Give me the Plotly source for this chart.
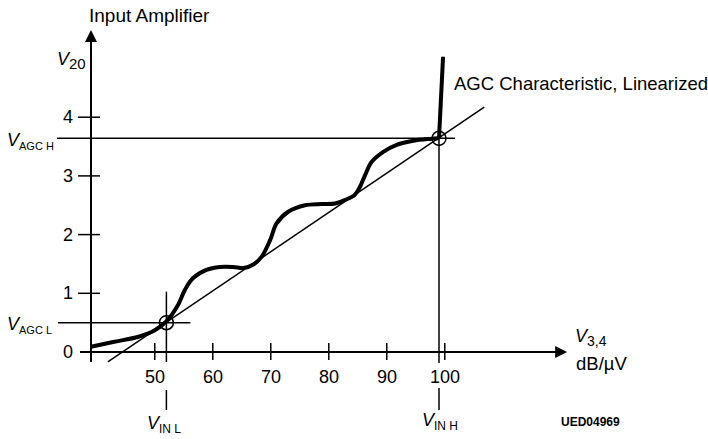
import plotly.graph_objects as go

# ---------------- data ----------------
X_TICKS = [50, 60, 70, 80, 90, 100]
X_TICK_LABELS = ["50", "60", "70", "80", "90", "100"]
Y_TICKS = [1, 2, 3, 4]
Y_TICK_LABELS = ["1", "2", "3", "4"]
Y_ZERO_LABEL = "0"

X_ORIGIN = 39          # where the V20 axis crosses the input axis (dB/uV)
X_AXIS_END = 119.2     # end of input axis line (arrow base)
Y_AXIS_END = 5.28      # end of V20 axis line (arrow base)

# AGC characteristic (thick curve)
CURVE_X = [39, 42.8, 47.2, 50, 52, 54.0, 55.2, 56.6, 58.9, 61.2, 63.5, 65.3, 67.0,
           68.4, 69.9, 71.0, 73.0, 75.9, 78.8, 81.1, 82.8, 84.5, 85.4, 86.2, 87.4,
           89.4, 91.7, 94.6, 97.4, 99]
CURVE_Y = [0.09, 0.17, 0.26, 0.37, 0.52, 0.80, 1.06, 1.26, 1.40, 1.45, 1.45, 1.43, 1.49,
           1.62, 1.91, 2.19, 2.39, 2.50, 2.52, 2.53, 2.59, 2.68, 2.82, 3.00, 3.24,
           3.41, 3.53, 3.60, 3.63, 3.64]
RISE_X = [99, 99.7]
RISE_Y = [3.64, 5.03]

# linearized characteristic
LIN_X = [41.9, 106.8]
LIN_Y = [-0.17, 4.17]

# limit points
VIN_L, VAGC_L = 52, 0.5
VIN_H, VAGC_H = 99, 3.64

# ---------------- geometry / scales ----------------
W, H = 708, 439
OX_PX, OY_PX = 91, 352      # pixel of origin
PX_PER_X, PX_PER_Y = 5.8, 58.7
x_range = [X_ORIGIN - OX_PX / PX_PER_X, X_ORIGIN + (W - OX_PX) / PX_PER_X]
y_range = [-(H - OY_PX) / PX_PER_Y, OY_PX / PX_PER_Y]

def dx(px):
    return px / PX_PER_X

def dy(px):
    return px / PX_PER_Y

FONT = "Liberation Sans, Arial, sans-serif"
BLACK = "#000000"

fig = go.Figure()

# thin linearized line
fig.add_trace(go.Scatter(x=LIN_X, y=LIN_Y, mode="lines",
                         line=dict(color=BLACK, width=1.5), hoverinfo="skip"))

shapes = []
def seg(x0, y0, x1, y1, w=1.5):
    shapes.append(dict(type="line", xref="x", yref="y", x0=x0, y0=y0, x1=x1, y1=y1,
                       line=dict(color=BLACK, width=w), layer="below"))

# axes
seg(X_ORIGIN - dx(11), 0, X_AXIS_END, 0, 2)
seg(X_ORIGIN, -dy(10), X_ORIGIN, Y_AXIS_END, 2)
# ticks
for t in X_TICKS:
    seg(t, -dy(8), t, dy(9), 1.5)
for t in Y_TICKS:
    seg(X_ORIGIN - dx(13), t, X_ORIGIN + dx(9), t, 1.5)
# reference lines
seg(X_ORIGIN - dx(34), VAGC_H, VIN_H + dx(16), VAGC_H, 1.5)
seg(X_ORIGIN - dx(33), VAGC_L, VIN_L + dx(24), VAGC_L, 1.5)
seg(VIN_L, -dy(10), VIN_L, VAGC_L + dy(31), 1.5)
seg(VIN_H, -dy(11), VIN_H, VAGC_H, 1.5)
# small markers between tick labels and V_IN labels
seg(VIN_L, -dy(38), VIN_L, -dy(58), 1.5)
seg(VIN_H, -dy(36), VIN_H, -dy(58), 1.5)

# thick characteristic
fig.add_trace(go.Scatter(x=CURVE_X, y=CURVE_Y, mode="lines",
                         line=dict(color=BLACK, width=4, shape="spline", smoothing=1.0),
                         hoverinfo="skip"))
fig.add_trace(go.Scatter(x=RISE_X, y=RISE_Y, mode="lines",
                         line=dict(color=BLACK, width=4), hoverinfo="skip"))

# circles at limit points
fig.add_trace(go.Scatter(x=[VIN_L, VIN_H], y=[VAGC_L, VAGC_H], mode="markers",
                         marker=dict(symbol="circle-open", size=14,
                                     line=dict(color=BLACK, width=1.5), color=BLACK),
                         hoverinfo="skip"))

# arrow heads
fig.add_trace(go.Scatter(x=[X_ORIGIN], y=[Y_AXIS_END + dy(12)], mode="markers",
                         marker=dict(symbol="arrow-up", size=12, color=BLACK,
                                     line=dict(width=0)), hoverinfo="skip"))
fig.add_trace(go.Scatter(x=[X_AXIS_END + dx(11)], y=[0], mode="markers",
                         marker=dict(symbol="arrow-right", size=12, color=BLACK,
                                     line=dict(width=0)), hoverinfo="skip"))

ann = []
def text(s, x, y, size=17, xanchor="left", yanchor="middle", xref="paper", yref="paper",
         xshift=0, yshift=0, weight="normal"):
    if xref == "paper":
        x = x / W
    if yref == "paper":
        y = 1 - y / H
    ann.append(dict(text=s, x=x, y=y, xref=xref, yref=yref, xanchor=xanchor,
                    yanchor=yanchor, showarrow=False, xshift=xshift, yshift=yshift,
                    font=dict(family=FONT, size=size, color=BLACK, weight=weight)))

def vlab(sub, px):
    return "<i>V</i><sub><span style='font-size:%dpx'>%s</span></sub>" % (px, sub)

for t, lab in zip(X_TICKS, X_TICK_LABELS):
    text(lab, t, 0, size=18, xanchor="center", xref="x", yref="y", yshift=-25)
for t, lab in zip(Y_TICKS, Y_TICK_LABELS):
    text(lab, 68, t, size=18, xanchor="center", yref="y")
text(Y_ZERO_LABEL, 68, 0, size=18, xanchor="center", yref="y")

text("Input Amplifier", 87, 16, size=19)
text(vlab("20", 15), 55, 61, size=18)
text("AGC Characteristic, Linearized", 452, 83, size=18.5)
text(vlab("AGC H", 11), 5, 141, size=18)
text(vlab("AGC L", 11), 5, 325, size=18)
text(vlab("IN L", 12), 145, 424, size=18)
text(vlab("IN H", 12), 420, 421, size=18)
text(vlab("3,4", 14), 573, 337, size=18)
text("dB/µV", 574, 363, size=18.5)
text("UED04969", 559, 422, size=12, weight="bold")

fig.update_layout(
    width=W, height=H, margin=dict(l=0, r=0, t=0, b=0),
    paper_bgcolor="white", plot_bgcolor="white", showlegend=False,
    xaxis=dict(range=x_range, visible=False, fixedrange=True),
    yaxis=dict(range=y_range, visible=False, fixedrange=True),
    shapes=shapes, annotations=ann,
)

fig.write_html("out.html", config={"displayModeBar": False},
               post_script="document.body.style.margin='0';")
